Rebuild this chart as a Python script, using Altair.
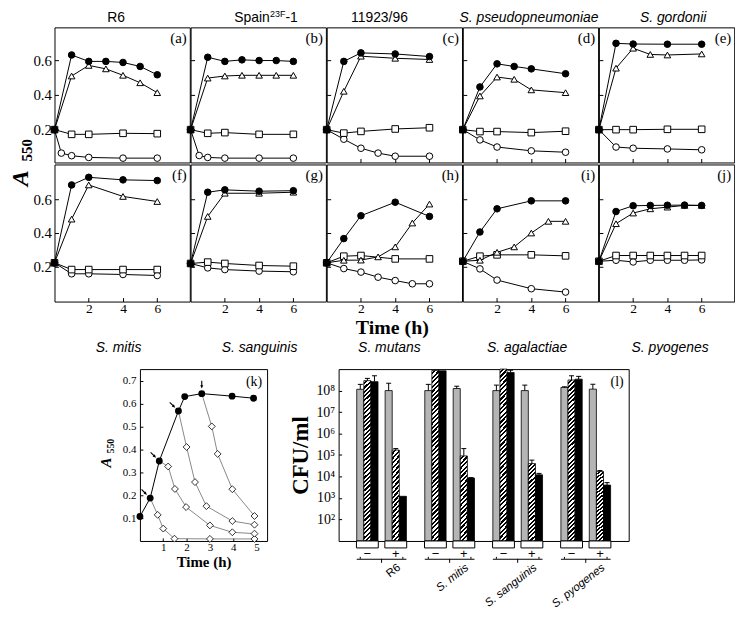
import altair as alt
import pandas as pd

SERIF = 'Liberation Serif'
SANS = 'Liberation Sans'

# ---------------- top grid (A550 vs time, h) ----------------
SERIES = ['circle', 'square', 'triangle', 'filled']

A_CIRCLE = ([0, 0.4, 1, 2, 4, 6], [0.20, 0.065, 0.05, 0.04, 0.036, 0.036])
A_SQUARE = ([0, 1, 2, 4, 6], [0.20, 0.173, 0.173, 0.179, 0.177])
A_TRIANGLE = ([0, 1, 2, 3, 4, 5, 6], [0.20, 0.509, 0.57, 0.55, 0.513, 0.47, 0.413])
A_FILLED = ([0, 1, 2, 3, 4, 5, 6], [0.20, 0.63, 0.593, 0.593, 0.587, 0.564, 0.516])

B_CIRCLE = ([0, 0.5, 1, 2, 4, 6], [0.20, 0.051, 0.04, 0.036, 0.036, 0.036])
B_SQUARE = ([0, 1, 2, 4, 6], [0.20, 0.179, 0.183, 0.173, 0.173])
B_TRIANGLE = ([0, 1, 2, 3, 4, 5, 6], [0.20, 0.497, 0.509, 0.513, 0.513, 0.513, 0.513])
B_FILLED = ([0, 1, 2, 3, 4, 5, 6], [0.20, 0.617, 0.593, 0.602, 0.598, 0.598, 0.593])

C_CIRCLE = ([0, 1, 2, 3, 4, 6], [0.20, 0.145, 0.093, 0.065, 0.047, 0.047])
C_SQUARE = ([0, 1, 2, 4, 6], [0.20, 0.18, 0.19, 0.204, 0.211])
C_TRIANGLE = ([0, 1, 2, 4, 6], [0.20, 0.421, 0.623, 0.611, 0.604])
C_FILLED = ([0, 1, 2, 4, 6], [0.20, 0.593, 0.642, 0.636, 0.621])

D_CIRCLE = ([0, 1, 2, 4, 6], [0.20, 0.141, 0.10, 0.078, 0.07])
D_SQUARE = ([0, 1, 2, 4, 6], [0.20, 0.189, 0.189, 0.183, 0.191])
D_TRIANGLE = ([0, 1, 2, 3, 4, 6], [0.20, 0.394, 0.503, 0.49, 0.429, 0.413])
D_FILLED = ([0, 1, 2, 3, 4, 6], [0.20, 0.446, 0.579, 0.564, 0.55, 0.522])

E_CIRCLE = ([0, 1, 2, 4, 6], [0.20, 0.10, 0.093, 0.089, 0.084])
E_SQUARE = ([0, 1, 2, 4, 6], [0.20, 0.20, 0.20, 0.202, 0.202])
E_TRIANGLE = ([0, 1, 2, 3, 4, 6], [0.20, 0.554, 0.669, 0.633, 0.63, 0.636])
E_FILLED = ([0, 1, 2, 4, 6], [0.20, 0.697, 0.693, 0.692, 0.692])

F_CIRCLE = ([0, 1, 2, 4, 6], [0.224, 0.159, 0.159, 0.155, 0.149])
F_SQUARE = ([0, 1, 2, 4, 6], [0.224, 0.184, 0.184, 0.184, 0.184])
F_TRIANGLE = ([0, 1, 2, 4, 6], [0.224, 0.482, 0.684, 0.616, 0.586])
F_FILLED = ([0, 1, 2, 4, 6], [0.224, 0.684, 0.729, 0.714, 0.71])

G_CIRCLE = ([0, 1, 2, 4, 6], [0.22, 0.194, 0.184, 0.175, 0.171])
G_SQUARE = ([0, 1, 2, 4, 6], [0.22, 0.228, 0.22, 0.208, 0.204])
G_TRIANGLE = ([0, 1, 2, 4, 6], [0.22, 0.498, 0.635, 0.635, 0.641])
G_FILLED = ([0, 1, 2, 4, 6], [0.22, 0.641, 0.655, 0.647, 0.65])

H_CIRCLE = ([0, 1, 2, 3, 4, 5, 6], [0.224, 0.19, 0.169, 0.139, 0.119, 0.10, 0.10])
H_SQUARE = ([0, 1, 2, 4, 6], [0.224, 0.263, 0.267, 0.247, 0.247])
H_TRIANGLE = ([0, 1, 2, 3, 4, 5, 6], [0.224, 0.239, 0.24, 0.259, 0.318, 0.459, 0.571])
H_FILLED = ([0, 1, 2, 4, 6], [0.224, 0.367, 0.502, 0.582, 0.498])

I_CIRCLE = ([0, 1, 2, 4, 6], [0.233, 0.188, 0.122, 0.071, 0.051])
I_SQUARE = ([0, 1, 2, 4, 6], [0.233, 0.263, 0.271, 0.271, 0.265])
I_TRIANGLE = ([0, 1, 2, 3, 4, 5, 6], [0.233, 0.239, 0.286, 0.318, 0.40, 0.469, 0.469])
I_FILLED = ([0, 1, 2, 4, 6], [0.233, 0.406, 0.543, 0.59, 0.59])

J_CIRCLE = ([0, 1, 2, 3, 4, 5, 6], [0.233, 0.239, 0.229, 0.239, 0.239, 0.239, 0.241])
J_SQUARE = ([0, 1, 2, 3, 4, 5, 6], [0.233, 0.267, 0.267, 0.267, 0.267, 0.267, 0.267])
J_TRIANGLE = ([0, 1, 2, 3, 4, 5, 6], [0.233, 0.455, 0.518, 0.543, 0.553, 0.563, 0.563])
J_FILLED = ([0, 1, 2, 3, 4, 5, 6], [0.233, 0.527, 0.561, 0.563, 0.564, 0.565, 0.563])

TOP_TITLES = ['R6', 'Spain', '11923/96', 'S. pseudopneumoniae', 'S. gordonii']
BOTTOM_TITLES = ['S. mitis', 'S. sanguinis', 'S. mutans', 'S. agalactiae', 'S. pyogenes']
X_TICKS = [2, 4, 6]
Y_TICKS = [0.2, 0.4, 0.6]

# ---------------- panel (k) ----------------
K_GROWTH_T = [0, 0.44, 0.83, 1.65, 1.92, 2.65, 3.95, 4.87]
K_GROWTH_V = [0.107, 0.187, 0.349, 0.567, 0.63, 0.643, 0.632, 0.623]
K_START_IDX = [1, 2, 3, 5]
K_D1 = ([0.76, 1.0, 1.48, 3.0, 4.91], [0.114, 0.054, 0.01, 0.009, 0.009])
K_D2 = ([1.21, 1.5, 1.98, 3.0, 3.96, 4.91], [0.325, 0.227, 0.148, 0.068, 0.038, 0.032])
K_D3 = ([2.0, 2.36, 2.85, 3.96, 4.91], [0.41, 0.257, 0.152, 0.087, 0.071])
K_D4 = ([3.08, 3.33, 3.96, 4.91], [0.5, 0.38, 0.226, 0.109])

# ---------------- panel (l) ----------------
SPECIES = ['R6', 'S. mitis', 'S. sanguinis', 'S. pyogenes']
SLOTS = ['-g', '-h', '-k', 'gap', '+g', '+h', '+k']
BAR_SLOTS = ['-g', '-h', '-k', '+g', '+h', '+k']
L_R6 = [1.15e8, 2.9e8, 2.6e8, 1.0e8, 1.7e5, 1.2e3]
L_MITIS = [1.0e8, 8.7e8, 8.3e8, 1.25e8, 9.1e4, 8.5e3]
L_SANGUINIS = [1.0e8, 1.0e9, 6.9e8, 1.0e8, 4.0e4, 1.2e4]
L_PYOGENES = [1.4e8, 3.1e8, 3.4e8, 1.17e8, 1.7e4, 4.0e3]
E_R6 = [1.95e8, 3.7e8, 4.9e8, 2.2e8, 2.0e5, None]
E_MITIS = [1.95e8, None, None, 1.6e8, 2.0e5, 8.9e3]
E_SANGUINIS = [1.8e8, None, 8.9e8, 1.8e8, 5.8e4, 1.4e4]
E_PYOGENES = [1.5e8, 4.9e8, 4.6e8, 1.95e8, 1.9e4, 5.2e3]
L_TICKS = [1e2, 1e3, 1e4, 1e5, 1e6, 1e7, 1e8]

# ---------------- layout ----------------
W = 136.2
H1, H2 = 136, 138
XDOM = [0, 7.9]
Y1DOM = [0.011, 0.789]
Y2DOM = [-0.005, 0.805]
KW, KH = 128, 173
LW, LH = 292, 173
ANCHOR_X = -49.5
ANCHOR_TOP = -24
TITLE_Y = -5.5


def txt(s, x, y, **kw):
    props = dict(color='black')
    props.update(kw)
    return alt.Chart(pd.DataFrame({'s': [s]})).mark_text(**props).encode(
        text='s:N', x=alt.value(x), y=alt.value(y))


def anchor(y):
    return alt.Chart(pd.DataFrame({'z': [0]})).mark_point(
        opacity=0, size=0.01, strokeWidth=0).encode(x=alt.value(ANCHOR_X), y=alt.value(y))


def grid_panel(pid, series, row, col):
    rows = []
    for name, (ts, vs) in zip(SERIES, series):
        for t, v in zip(ts, vs):
            rows.append({'t': t, 'v': v, 'series': name})
    df = pd.DataFrame(rows)
    h = H1 if row == 0 else H2
    ydom = Y1DOM if row == 0 else Y2DOM
    tick_common = dict(values=X_TICKS, domain=False, grid=False, tickSize=4, offset=-4,
                       tickColor='black', title=None)
    if row == 1:
        xax = alt.Axis(labels=True, format='d', labelFont=SERIF, labelFontSize=13.5,
                       labelColor='black', labelPadding=0, **tick_common)
    elif col >= 2:
        xax = alt.Axis(labels=False, **tick_common)
    else:
        xax = None
    yax = alt.Axis(values=Y_TICKS, labels=(col == 0), format='.1f', labelFont=SERIF,
                   labelFontSize=15, labelColor='black', labelPadding=3, domain=False,
                   grid=False, tickSize=4, offset=-4, tickColor='black', title=None)
    base = alt.Chart(df).encode(
        x=alt.X('t:Q', scale=alt.Scale(domain=XDOM, nice=False, zero=False), axis=xax),
        y=alt.Y('v:Q', scale=alt.Scale(domain=ydom, nice=False, zero=False), axis=yax))
    lines = base.mark_line(color='black', strokeWidth=1).encode(detail='series:N')
    pts = base.mark_point(stroke='black', strokeWidth=1, opacity=1, size=44).encode(
        shape=alt.Shape('series:N', scale=alt.Scale(
            domain=SERIES, range=['circle', 'square', 'triangle-up', 'circle']), legend=None),
        fill=alt.Fill('series:N', scale=alt.Scale(
            domain=SERIES, range=['white', 'white', 'white', 'black']), legend=None))
    layers = [lines, pts, txt(f'({pid})', W - 3, 4, font=SERIF, fontSize=15,
                              align='right', baseline='top')]
    if row == 0:
        title = TOP_TITLES[col]
        if col == 1:
            layers += [txt('Spain', 44, TITLE_Y, font=SANS, fontSize=14, align='left', baseline='alphabetic'),
                       txt('23F', 80, TITLE_Y - 5, font=SANS, fontSize=9, align='left', baseline='alphabetic'),
                       txt('-1', 95.5, TITLE_Y, font=SANS, fontSize=14, align='left', baseline='alphabetic')]
        else:
            dx = {0: -6, 2: -15, 3: -1.5, 4: 6.6}[col]
            layers.append(txt(title, W / 2 + dx, TITLE_Y, font=SANS, fontSize=14,
                              fontStyle='italic' if title.startswith('S.') else 'normal',
                              baseline='alphabetic'))
    else:
        dx = [-3.6, 1.3, -5, -3.4, 3.5][col]
        layers.append(txt(BOTTOM_TITLES[col], W / 2 + dx, 188.5, font=SANS, fontSize=14,
                          fontStyle='italic', baseline='alphabetic'))
        if col == 2:
            layers.append(txt('Time (h)', W / 2 - 2, 170.5, font=SERIF, fontSize=20,
                              fontWeight='bold', baseline='alphabetic'))
    if col == 0:
        layers.append(anchor(h / 2))
        if row == 0:
            layers.append(anchor(ANCHOR_TOP))
            layers.append(txt('550', -23, 135, font=SERIF, fontSize=15, fontWeight='bold',
                              angle=270, align='left', baseline='alphabetic'))
        else:
            layers.append(txt('A', -27, 22, font=SERIF, fontSize=24, fontWeight='bold',
                              fontStyle='italic', angle=270, align='left', baseline='alphabetic'))
    return alt.layer(*layers).properties(width=W, height=h)


GRID = [
    [('a', (A_CIRCLE, A_SQUARE, A_TRIANGLE, A_FILLED)),
     ('b', (B_CIRCLE, B_SQUARE, B_TRIANGLE, B_FILLED)),
     ('c', (C_CIRCLE, C_SQUARE, C_TRIANGLE, C_FILLED)),
     ('d', (D_CIRCLE, D_SQUARE, D_TRIANGLE, D_FILLED)),
     ('e', (E_CIRCLE, E_SQUARE, E_TRIANGLE, E_FILLED))],
    [('f', (F_CIRCLE, F_SQUARE, F_TRIANGLE, F_FILLED)),
     ('g', (G_CIRCLE, G_SQUARE, G_TRIANGLE, G_FILLED)),
     ('h', (H_CIRCLE, H_SQUARE, H_TRIANGLE, H_FILLED)),
     ('i', (I_CIRCLE, I_SQUARE, I_TRIANGLE, I_FILLED)),
     ('j', (J_CIRCLE, J_SQUARE, J_TRIANGLE, J_FILLED))],
]

# ---------------- (k) ----------------
kx = alt.Scale(domain=[0, 5.45], nice=False, zero=False)
ky = alt.Scale(domain=[0, 0.75], nice=False, zero=False)
kxax = alt.Axis(values=[1, 2, 3, 4, 5], format='d', labelFont=SERIF, labelFontSize=11,
                labelColor='black', labelPadding=1, domain=False, grid=False, tickSize=3,
                offset=-3, tickColor='black', title='Time (h)', titleFont=SERIF,
                titleFontSize=15, titleFontWeight='bold', titleColor='black', titlePadding=2)
kyax = alt.Axis(values=[0.1, 0.2, 0.3, 0.4, 0.5, 0.6, 0.7], format='.1f', labelFont=SERIF,
                labelFontSize=11, labelColor='black', labelPadding=4, domain=False, grid=False,
                tickSize=3, offset=-3, tickColor='black', title=None)
growth = pd.DataFrame({'t': K_GROWTH_T, 'v': K_GROWTH_V})
drows, lrows = [], []
for ci, (si, (ts, vs)) in enumerate(zip(K_START_IDX, [K_D1, K_D2, K_D3, K_D4])):
    lrows.append({'curve': ci, 'i': 0, 't': K_GROWTH_T[si], 'v': K_GROWTH_V[si]})
    for j, (t, v) in enumerate(zip(ts, vs)):
        lrows.append({'curve': ci, 'i': j + 1, 't': t, 'v': v})
        drows.append({'t': t, 'v': v})
decay_line = pd.DataFrame(lrows)
diamonds = pd.DataFrame(drows)
arrows = pd.DataFrame({'t': [K_GROWTH_T[i] for i in K_START_IDX],
                       'v': [K_GROWTH_V[i] for i in K_START_IDX],
                       'g': ['diag', 'diag', 'diag', 'down']})

kenc = dict(x=alt.X('t:Q', scale=kx, axis=kxax), y=alt.Y('v:Q', scale=ky, axis=kyax))
k_decay = alt.Chart(decay_line).mark_line(color='#7a7a7a', strokeWidth=0.9).encode(
    detail='curve:N', order='i:Q', **kenc)
k_dia = alt.Chart(diamonds).mark_point(shape='diamond', size=48, fill='white', stroke='black',
                                       strokeWidth=0.8, opacity=1).encode(**kenc)
k_line = alt.Chart(growth).mark_line(color='black', strokeWidth=1).encode(**kenc)
k_pts = alt.Chart(growth).mark_point(shape='circle', size=24, fill='black', stroke='black',
                                     opacity=1).encode(**kenc)
k_arr1 = alt.Chart(arrows).transform_filter("datum.g == 'diag'").mark_point(
    shape='arrow', angle=135, size=60, filled=True, color='black', opacity=1,
    xOffset=-6, yOffset=-6).encode(**kenc)
k_arr2 = alt.Chart(arrows).transform_filter("datum.g == 'down'").mark_point(
    shape='arrow', angle=180, size=60, filled=True, color='black', opacity=1,
    yOffset=-9).encode(**kenc)
k_chart = alt.layer(
    k_decay, k_dia, k_line, k_pts, k_arr1, k_arr2,
    txt('(k)', KW - 5, 6, font=SERIF, fontSize=14, align='right', baseline='top'),
    txt('A', -29, 99, font=SERIF, fontSize=15, fontWeight='bold', fontStyle='italic',
        angle=270, align='left', baseline='alphabetic'),
    txt('550', -26.5, 85, font=SERIF, fontSize=10, fontWeight='bold', angle=270,
        align='left', baseline='alphabetic'),
).properties(width=KW, height=KH)

# ---------------- (l) ----------------
brows = []
for sp, vals, errs in zip(SPECIES, [L_R6, L_MITIS, L_SANGUINIS, L_PYOGENES],
                          [E_R6, E_MITIS, E_SANGUINIS, E_PYOGENES]):
    for slot, v, e in zip(BAR_SLOTS, vals, errs):
        brows.append({'species': sp, 'slot': slot, 'val': v, 'err': e,
                      'kind': slot[1], 'sign': slot[0]})
bars = pd.DataFrame(brows)
errs = bars.dropna(subset=['err'])

lx = alt.X('species:N', sort=SPECIES, axis=None,
           scale=alt.Scale(domain=SPECIES, paddingInner=0.27, paddingOuter=0.266))
slot_scale = alt.Scale(domain=SLOTS, paddingInner=0, paddingOuter=0)
lxo = alt.XOffset('slot:N', scale=slot_scale)
lyax = alt.Axis(values=L_TICKS, labelExpr="'10' + ['\u2070','\u00b9','\u00b2','\u00b3','\u2074','\u2075','\u2076','\u2077','\u2078','\u2079'][round(log(datum.value)/LN10)]",
                labelFont=SERIF, labelFontSize=14, labelColor='black', labelPadding=4,
                domain=False, grid=False, tickSize=3, offset=-3, tickColor='black',
                title='CFU/ml', titleFont=SERIF, titleFontSize=23, titleFontWeight='bold',
                titleColor='black', titlePadding=3)
lscale = alt.Scale(type='log', domain=[10, 1e9], nice=False)
ly = alt.Y('val:Q', scale=lscale, axis=lyax)


def hatch(w, h, period=4.4):
    k = (w + h) / (w * w + h * h)
    n = int(round((w + h) / period))
    stops = []
    for i in range(n):
        stops += [alt.GradientStop(color='white', offset=i / n),
                  alt.GradientStop(color='white', offset=(i + 0.5) / n),
                  alt.GradientStop(color='black', offset=(i + 0.5) / n),
                  alt.GradientStop(color='black', offset=(i + 1) / n)]
    return alt.Gradient(gradient='linear', x1=0, y1=0, x2=k * w, y2=k * h, stops=stops)


bar_base = alt.Chart(bars).encode(x=lx, xOffset=lxo, y=ly, y2=alt.datum(10))
l_gray = bar_base.transform_filter("datum.kind == 'g'").mark_bar(
    fill='#b5b5b5', stroke='black', strokeWidth=0.8)
l_hatch_m = bar_base.transform_filter("datum.kind == 'h' && datum.sign == '-'").mark_bar(
    fill=hatch(7.1, 165), stroke='black', strokeWidth=0.8)
l_hatch_p = bar_base.transform_filter("datum.kind == 'h' && datum.sign == '+'").mark_bar(
    fill=hatch(7.1, 80), stroke='black', strokeWidth=0.8)
l_black = bar_base.transform_filter("datum.kind == 'k'").mark_bar(
    fill='black', stroke='black', strokeWidth=0.8)
l_err = alt.Chart(errs).mark_rule(color='black', strokeWidth=1).encode(
    x=lx, xOffset=lxo, y=ly, y2='err:Q')
l_cap = alt.Chart(errs).mark_tick(color='black', thickness=1, size=5, opacity=1).encode(
    x=lx, xOffset=lxo, y=alt.Y('err:Q', scale=lscale))

groups = pd.DataFrame({'species': [s for s in SPECIES for _ in range(2)],
                       'slot': ['-h', '+h'] * 4,
                       'sign': ['\u2212', '+'] * 4})
l_box = alt.Chart(groups).mark_bar(width=22, fill='white', stroke='black', strokeWidth=1).encode(
    x=lx, xOffset=lxo, y=alt.value(LH), y2=alt.value(LH + 7))
l_sign = alt.Chart(groups).mark_text(font=SANS, fontSize=13, color='black').encode(
    x=lx, xOffset=lxo, y=alt.value(LH + 13), text='sign:N')

sp_df = pd.DataFrame({'species': SPECIES, 'left': ['-g'] * 4, 'mid': ['gap'] * 4,
                      'right': ['+k'] * 4, 'lab': ['+h'] * 4})
l_brk = alt.Chart(sp_df).mark_bar(fill='black', strokeWidth=0).encode(
    x=lx, y=alt.value(LH + 18), y2=alt.value(LH + 19))
l_brk_l = alt.Chart(sp_df).mark_rule(color='black', xOffset=-3.5).encode(
    x=lx, xOffset=alt.XOffset('left:N', scale=slot_scale),
    y=alt.value(LH + 16), y2=alt.value(LH + 18))
l_brk_r = alt.Chart(sp_df).mark_rule(color='black', xOffset=3.5).encode(
    x=lx, xOffset=alt.XOffset('right:N', scale=slot_scale),
    y=alt.value(LH + 16), y2=alt.value(LH + 18))
l_brk_c = alt.Chart(sp_df).mark_rule(color='black').encode(
    x=lx, xOffset=alt.XOffset('mid:N', scale=slot_scale),
    y=alt.value(LH + 18), y2=alt.value(LH + 22))
lab_off = alt.XOffset('lab:N', scale=slot_scale)
l_lab1 = alt.Chart(sp_df).transform_filter("datum.species == 'R6'").mark_text(
    font=SANS, fontSize=11.5, angle=322, align='right', baseline='top', xOffset=0,
    color='black').encode(x=lx, xOffset=lab_off, y=alt.value(LH + 21), text='species:N')
l_lab2 = alt.Chart(sp_df).transform_filter("datum.species != 'R6'").mark_text(
    font=SANS, fontSize=11.5, angle=322, align='right', baseline='top', fontStyle='italic',
    xOffset=9, color='black').encode(x=lx, xOffset=lab_off, y=alt.value(LH + 21), text='species:N')

l_chart = alt.layer(
    l_gray, l_hatch_m, l_hatch_p, l_black, l_err, l_cap, l_box, l_sign,
    l_brk, l_brk_l, l_brk_r, l_brk_c, l_lab1, l_lab2,
    txt('(l)', LW - 5, 6, font=SERIF, fontSize=14, align='right', baseline='top'),
).properties(width=LW, height=LH)


def spacer(w, h, with_anchor=False):
    base = alt.Chart(pd.DataFrame({'z': [0]})).mark_point(opacity=0, size=0.01, strokeWidth=0).encode(
        x=alt.value(0), y=alt.value(0))
    layers = [base, anchor(h / 2)] if with_anchor else [base]
    return alt.layer(*layers).properties(
        width=w, height=h, view=alt.ViewBackground(strokeOpacity=0, strokeWidth=0))


rows_out = []
for r, row in enumerate(GRID):
    panels = [grid_panel(pid, s, r, c) for c, (pid, s) in enumerate(row)]
    rows_out.append(alt.hconcat(*panels, spacing=0, bounds='flush'))
gap = spacer(W, 13.2, with_anchor=True)
bottom = alt.hconcat(spacer(85.7, KH, with_anchor=True), k_chart, spacer(71.3, KH), l_chart,
                     spacing=0, bounds='flush')

chart = alt.vconcat(rows_out[0], rows_out[1], gap, bottom, spacing=-1).properties(
    padding={'left': -4.2, 'top': -7.5, 'right': 0, 'bottom': 0}, background='white'
).configure_view(stroke='black', strokeWidth=1).configure_axis(labelColor='black')

chart.save('out.html', embed_options={'renderer': 'svg', 'actions': False})
